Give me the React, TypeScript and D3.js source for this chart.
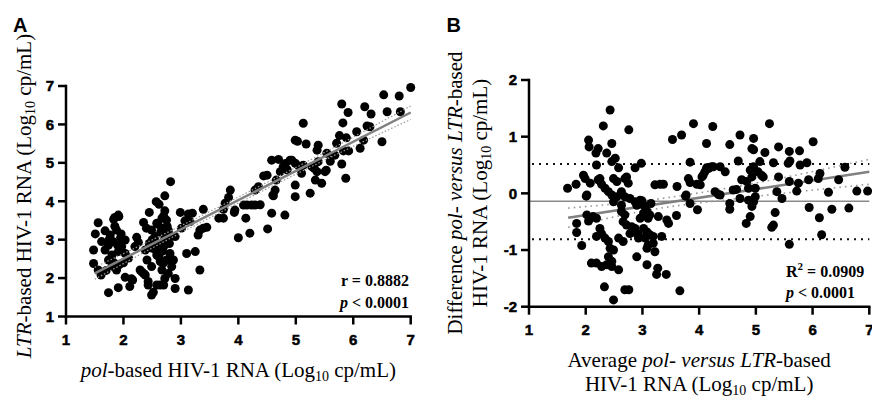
import React from 'react';
import * as d3 from 'd3';

// Panel A: pol-based (x) vs LTR-based (y) HIV-1 RNA, log10 cp/mL
const pointsA: [number, number][] = [
  [2.82, 4.51], [2.72, 4.14], [2.57, 3.99], [2.62, 3.92], [2.45, 3.71], [2.72, 3.75], [2.99, 3.71],
  [1.91, 3.64], [1.83, 3.53], [1.56, 3.44], [2.35, 3.45], [3.07, 3.49], [2.67, 3.56], [2.75, 3.51],
  [2.58, 3.43], [1.51, 3.15], [1.68, 3.23], [1.88, 3.25], [1.96, 3.15], [1.77, 3.12], [2.03, 2.99],
  [2.23, 3.06], [2.26, 2.93], [2.49, 3.25], [2.67, 3.30], [2.78, 3.25], [2.55, 3.08], [2.72, 3.04],
  [2.90, 3.08], [3.01, 3.30], [1.48, 2.73], [1.62, 2.95], [1.74, 2.86], [1.82, 2.95], [1.68, 2.73],
  [1.80, 2.60], [1.91, 2.69], [1.97, 2.82], [1.48, 2.38], [1.56, 2.21], [1.61, 2.08], [1.74, 2.47],
  [1.85, 2.38], [1.88, 2.21], [2.38, 2.73], [2.49, 2.78], [2.58, 2.60], [2.41, 2.47], [2.49, 2.30],
  [2.64, 2.43], [2.75, 2.47], [2.81, 2.64], [3.10, 2.64], [2.70, 2.82], [2.84, 2.30], [2.78, 2.12],
  [2.29, 2.21], [2.35, 2.12], [2.03, 2.02], [2.14, 1.98], [2.90, 1.99], [1.74, 1.62], [1.91, 1.75],
  [2.43, 1.82], [2.52, 1.63], [2.64, 1.82], [2.90, 1.73], [3.13, 1.69], [2.49, 1.56], [2.20, 2.82],
  [2.09, 2.52], [2.03, 2.64], [2.38, 2.08], [2.67, 2.21], [2.72, 1.99], [2.87, 2.47],
  [2.60, 3.40], [2.65, 3.20], [2.70, 3.62], [2.76, 3.35], [2.60, 2.90], [2.68, 2.70], [2.55, 2.75],
  [2.62, 2.55], [2.70, 2.40], [2.80, 2.90], [2.50, 3.00], [2.45, 2.90], [2.40, 3.30], [2.83, 3.10],
  [1.75, 3.00], [1.85, 3.35], [1.95, 3.05], [1.90, 2.85], [1.80, 2.45], [1.93, 2.35], [2.00, 2.40],
  [1.70, 2.20], [1.80, 2.30], [1.85, 3.58], [1.92, 3.60],
  [2.11, 1.78], [2.16, 1.95], [2.32, 2.16], [2.43, 1.91], [2.58, 1.82], [2.70, 1.82], [3.33, 2.21],
  [3.25, 2.69], [3.16, 3.47], [3.20, 3.69], [3.13, 3.67], [3.33, 3.25], [3.39, 3.30], [3.45, 3.32],
  [3.30, 3.12], [3.39, 3.79], [3.66, 3.56], [3.74, 3.56], [3.77, 3.95], [3.74, 3.79], [3.83, 4.10],
  [3.86, 4.29], [3.93, 3.71], [3.94, 3.77], [4.00, 3.05], [4.09, 3.90], [4.15, 3.90], [4.23, 3.90],
  [4.29, 3.90], [4.38, 3.91], [4.13, 3.56], [4.20, 3.17], [4.51, 3.28], [4.58, 3.69], [4.61, 4.14],
  [4.81, 3.64], [4.99, 4.12], [5.25, 4.21],
  [4.29, 4.29], [4.35, 4.38], [4.44, 4.66], [4.50, 4.68], [4.58, 5.07], [4.60, 4.16], [4.64, 4.29],
  [4.66, 4.55], [4.70, 5.09], [4.73, 4.77], [4.78, 4.90], [4.82, 4.98], [4.85, 4.82], [4.90, 5.07],
  [4.99, 5.59], [5.03, 5.56], [4.99, 4.42], [5.05, 4.92], [5.10, 4.73], [5.13, 6.03], [5.18, 5.49],
  [5.28, 4.90], [5.34, 4.55], [5.37, 5.33], [5.39, 5.46], [5.45, 4.47], [5.51, 4.77], [5.54, 5.25],
  [5.60, 5.04], [5.71, 5.51], [5.76, 5.71], [5.88, 5.65], [5.80, 4.97], [5.80, 6.53], [5.82, 6.04],
  [5.83, 5.31], [5.92, 5.31], [5.87, 4.60], [5.68, 5.20], [5.91, 6.31], [6.06, 5.81], [6.12, 5.38],
  [6.18, 5.59], [6.20, 6.46], [6.24, 5.96], [6.29, 5.94], [6.31, 6.27], [6.50, 5.55], [6.53, 6.77],
  [6.59, 6.33], [6.80, 6.74], [6.82, 6.33], [7.00, 6.96], [4.93, 5.07], [4.99, 4.99], [5.13, 4.94],
  [5.32, 4.86], [5.37, 4.77], [5.39, 5.03], [5.53, 4.81],
];

// Panel B: average (x) vs difference pol - LTR (y)
const pointsB: [number, number][] = [
  [1.68, 0.09], [1.83, 0.16], [1.96, 0.32], [1.99, 0.26], [2.02, -0.03], [2.05, 0.94], [2.06, 0.82],
  [2.19, 0.50], [2.18, 0.71], [2.22, 0.79], [2.08, 0.18], [2.25, 0.26], [2.28, 0.16], [2.31, 1.19],
  [2.37, 0.71], [2.46, 0.88], [2.43, 1.47], [2.46, 0.56], [2.52, 0.62], [2.58, 0.45], [2.22, 0.24],
  [2.34, 0.09], [2.40, 0.03], [2.49, 0.26], [2.55, 0.21], [2.46, -0.03], [2.55, -0.06], [2.49, -0.15],
  [2.76, 1.12], [2.72, 0.29], [2.75, 0.18], [2.69, 0.26], [2.63, 0.03], [2.69, -0.06], [2.78, -0.09],
  [2.87, -0.15], [2.96, -0.12], [3.02, -0.21], [2.87, 0.45], [2.98, 0.53], [3.22, 0.15], [3.31, 0.16],
  [3.37, 0.16], [3.53, 0.95], [3.69, 1.03], [3.61, 0.12], [3.77, -0.03], [3.81, 0.26], [3.84, 0.19],
  [3.84, 0.55], [3.90, 1.23], [3.96, 0.16], [4.02, 0.15], [4.05, 0.29], [4.07, 0.32], [4.10, 0.38],
  [4.13, 0.45], [4.17, 0.44], [4.22, 0.47], [4.25, 0.47], [4.13, 0.88], [4.24, 1.18], [4.28, 0.03],
  [4.34, -0.02], [4.37, 0.47], [4.46, 0.38], [4.54, 0.86], [4.60, 0.06], [4.66, 0.07], [4.72, 1.03],
  [4.69, 0.57], [4.75, 0.24], [4.87, 0.09], [4.84, 0.21], [4.99, 0.09], [4.93, 0.29], [4.90, 0.41],
  [4.96, 0.47], [5.04, 0.38], [4.93, 0.79], [4.96, 0.97], [5.07, 0.56], [5.10, 0.32], [5.13, 0.29],
  [5.16, 0.72], [5.24, 1.23], [5.31, 0.54], [5.40, 0.82], [5.40, 0.29], [5.37, 0.03], [5.57, 0.53],
  [5.60, 0.57], [5.59, 0.74], [5.59, 0.21], [5.72, 0.04], [5.75, 0.18], [5.77, 0.75], [5.78, 0.50],
  [5.90, 0.54], [5.93, 0.24], [6.01, 0.91], [6.10, 0.26], [6.13, 0.35], [6.28, 0.02], [6.46, 0.24],
  [6.57, 0.46], [6.78, 0.04], [6.97, 0.04], [4.96, 0.77],
  [5.46, -0.09], [5.94, -0.25], [6.12, -0.43], [6.34, -0.28], [6.64, -0.26], [5.34, -0.34],
  [5.28, -0.60], [5.31, -0.56], [4.90, -0.41], [4.83, -0.53], [6.16, -0.73], [5.59, -0.90],
  [4.96, -0.15], [4.93, -0.23], [4.99, -0.06], [4.72, -0.09], [4.87, -0.12],
  [3.76, -0.05], [3.84, -0.18], [3.97, -0.29], [4.37, -0.03], [4.54, -0.18], [4.54, -0.28],
  [2.99, -0.13], [2.90, -0.21], [3.05, -0.23], [3.08, -0.32], [3.13, -0.38], [3.10, -0.44],
  [2.96, -0.44], [3.02, -0.62], [3.08, -0.68], [3.13, -0.73], [3.19, -0.76], [3.05, -0.79],
  [3.10, -0.91], [3.19, -0.88], [3.08, -0.97], [3.22, -1.03], [2.93, -0.73], [2.90, -1.12],
  [3.08, -1.26], [3.27, -1.32], [3.25, -1.43], [3.42, -1.43], [3.34, -0.76], [3.28, -0.41],
  [3.43, -0.47], [3.46, -0.53], [3.60, -0.39], [3.66, -1.72], [3.15, -0.18],
  [2.01, -0.05], [1.84, -0.53], [1.84, -0.69], [2.02, -0.38], [2.08, -0.44], [2.13, -0.41],
  [2.19, -0.44], [2.05, -0.49], [1.93, -0.92], [2.25, -0.62], [2.28, -0.71], [2.19, -0.76],
  [2.34, -0.79], [2.40, -0.85], [2.43, -0.97], [2.49, -1.00], [2.40, -1.12], [2.46, -1.20],
  [2.10, -1.23], [2.19, -1.23], [2.28, -1.29], [2.37, -1.26], [2.46, -1.29], [2.58, -1.35],
  [2.58, -0.79], [2.66, -0.85], [2.33, -1.65], [2.69, -1.70], [2.76, -1.70], [2.49, -1.88],
  [2.63, -0.32], [2.69, -0.38], [2.66, -0.50], [2.72, -0.56], [2.81, -0.59], [2.87, -0.62],
  [2.78, -0.71], [2.90, -0.71], [2.93, -0.79], [2.63, -0.21], [3.02, -0.35],
];

const ticksX = [1, 2, 3, 4, 5, 6, 7];
const ticksAY = [1, 2, 3, 4, 5, 6, 7];
const ticksBY = [-2, -1, 0, 1, 2];

// regression line + 95% band
const regAX = [1.5, 7];
const regAY = [2.125, 6.31];
const bandAX = [1.5, 3, 4.25, 5.5, 7];
const bandAUp = [2.28, 3.36, 4.3, 5.27, 6.48];
const bandALo = [1.97, 3.18, 4.14, 5.07, 6.13];

const regBX = [1.69, 7];
const regBY = [-0.43, 0.38];
const bandBX = [1.69, 3.2, 4.6, 7];
const bandBUp = [-0.26, -0.11, 0.11, 0.6];
const bandBLo = [-0.6, -0.28, -0.1, 0.16];
const meanDiff = -0.14;
const limitsB = [0.52, -0.81];

const W = 872;
const H = 398;
const boxA = { left: 66, right: 410.7, top: 86, bottom: 316.5 };
const boxB = { left: 529, right: 869.3, top: 80, bottom: 306.7 };
const serif = 'Liberation Serif, Times New Roman, serif';
const sans = 'Liberation Sans, Arial, sans-serif';

const xA = d3.scaleLinear().domain([1, 7]).range([boxA.left, boxA.right]);
const yA = d3.scaleLinear().domain([1, 7]).range([boxA.bottom, boxA.top]);
const xB = d3.scaleLinear().domain([1, 7]).range([boxB.left, boxB.right]);
const yB = d3.scaleLinear().domain([-2, 2]).range([boxB.bottom, boxB.top]);

// bold sans tick labels, a hair of stroke to get the heavy look of the original
const tickFont = {
  fontFamily: sans,
  fontWeight: 'bold' as const,
  fontSize: 15,
  stroke: '#000',
  strokeWidth: 0.5,
};

const AxisBottom = ({ scale, ticks, y }: { scale: d3.ScaleLinear<number, number>; ticks: number[]; y: number }) => {
  const [r0, r1] = scale.range();
  return (
    <g>
      {ticks.map((t) => (
        <g key={t} transform={`translate(${scale(t)},${y})`}>
          <line y2={8} stroke="#000" strokeWidth={2.5} />
          <text y={28} textAnchor="middle" {...tickFont}>{t}</text>
        </g>
      ))}
      <line x1={r0 - 1.25} x2={r1 + 1.25} y1={y} y2={y} stroke="#000" strokeWidth={2.5} />
    </g>
  );
};

const AxisLeft = ({ scale, ticks, x }: { scale: d3.ScaleLinear<number, number>; ticks: number[]; x: number }) => {
  const [r0, r1] = scale.range();
  return (
    <g>
      {ticks.map((t) => (
        <g key={t} transform={`translate(${x},${scale(t)})`}>
          <line x2={-8} stroke="#000" strokeWidth={2.5} />
          <text x={-12} dy="0.36em" textAnchor="end" {...tickFont}>{t}</text>
        </g>
      ))}
      <line x1={x} x2={x} y1={r0 + 1.25} y2={r1 - 1.25} stroke="#000" strokeWidth={2.5} />
    </g>
  );
};

const Log10 = () => (
  <>
    {'(Log'}
    <tspan fontSize={14} dy={4}>10</tspan>
    <tspan dy={-4}>{' cp/mL)'}</tspan>
  </>
);

const App: React.FC = () => {
  const regLine = (xs: number[], ys: number[], sx: any, sy: any) =>
    d3.line<number>().x((d) => sx(d)).y((d, i) => sy(ys[i]))(xs) || '';
  const bandLine = (xs: number[], ys: number[], sx: any, sy: any) =>
    d3.line<number>().x((d) => sx(d)).y((d, i) => sy(ys[i])).curve(d3.curveMonotoneX)(xs) || '';

  return (
    <svg width={W} height={H} style={{ position: 'absolute', left: 0, top: 0, background: '#fff' }}>
      {/* panel letters */}
      <text x={13} y={32} fontFamily={sans} fontWeight="bold" fontSize={20}>A</text>
      <text x={446.5} y={32} fontFamily={sans} fontWeight="bold" fontSize={20}>B</text>

      {/* ---- panel A ---- */}
      <g>
        {pointsA.map((d, i) => (
          <circle key={i} cx={xA(d[0])} cy={yA(d[1])} r={4.5} fill="#000" />
        ))}
        <path d={bandLine(bandAX, bandAUp, xA, yA)} fill="none" stroke="#9a9a9a" strokeWidth={1.2} strokeDasharray="1.5 2" />
        <path d={bandLine(bandAX, bandALo, xA, yA)} fill="none" stroke="#9a9a9a" strokeWidth={1.2} strokeDasharray="1.5 2" />
        <path d={regLine(regAX, regAY, xA, yA)} fill="none" stroke="#808080" strokeWidth={2.5} />
        <AxisBottom scale={xA} ticks={ticksX} y={boxA.bottom} />
        <AxisLeft scale={yA} ticks={ticksAY} x={boxA.left} />
        <text x={341} y={286} fontFamily={serif} fontSize={16} fontWeight="bold">r = 0.8882</text>
        <text x={340} y={308} fontFamily={serif} fontSize={16} fontWeight="bold">
          <tspan fontStyle="italic">p</tspan>{' < 0.0001'}
        </text>
        <text x={(boxA.left + boxA.right) / 2} y={377} textAnchor="middle" fontFamily={serif} fontSize={21}>
          <tspan fontStyle="italic">pol</tspan>{'-based HIV-1 RNA '}<Log10 />
        </text>
        <text transform={`translate(31,196) rotate(-90)`} textAnchor="middle" fontFamily={serif} fontSize={21}>
          <tspan fontStyle="italic">LTR</tspan>{'-based HIV-1 RNA '}<Log10 />
        </text>
      </g>

      {/* ---- panel B ---- */}
      <g>
        {limitsB.map((v, i) => (
          <line key={i} x1={boxB.left + 3} x2={boxB.right} y1={yB(v)} y2={yB(v)} stroke="#111" strokeWidth={2} strokeDasharray="2 5" />
        ))}
        <line x1={boxB.left} x2={boxB.right} y1={yB(meanDiff)} y2={yB(meanDiff)} stroke="#8a8a8a" strokeWidth={1.6} />
        <path d={bandLine(bandBX, bandBUp, xB, yB)} fill="none" stroke="#9a9a9a" strokeWidth={1.6} strokeDasharray="1.6 4" />
        <path d={bandLine(bandBX, bandBLo, xB, yB)} fill="none" stroke="#9a9a9a" strokeWidth={1.6} strokeDasharray="1.6 4" />
        <path d={regLine(regBX, regBY, xB, yB)} fill="none" stroke="#808080" strokeWidth={2.5} />
        {pointsB.map((d, i) => (
          <circle key={i} cx={xB(d[0])} cy={yB(d[1])} r={4.5} fill="#000" />
        ))}
        <AxisBottom scale={xB} ticks={ticksX} y={boxB.bottom} />
        <AxisLeft scale={yB} ticks={ticksBY} x={boxB.left} />
        <text x={786} y={277} fontFamily={serif} fontSize={16} fontWeight="bold">
          R<tspan fontSize={11} dy={-7}>2</tspan><tspan dy={7}>{' = 0.0909'}</tspan>
        </text>
        <text x={786} y={298} fontFamily={serif} fontSize={16} fontWeight="bold">
          <tspan fontStyle="italic">p</tspan>{' < 0.0001'}
        </text>
        <text x={(boxB.left + boxB.right) / 2} y={367} textAnchor="middle" fontFamily={serif} fontSize={21}>
          {'Average '}<tspan fontStyle="italic">{'pol- versus LTR'}</tspan>{'-based'}
        </text>
        <text x={(boxB.left + boxB.right) / 2} y={391} textAnchor="middle" fontFamily={serif} fontSize={21}>
          {'HIV-1 RNA '}<Log10 />
        </text>
        <text transform={`translate(462,193) rotate(-90)`} textAnchor="middle" fontFamily={serif} fontSize={21}>
          {'Difference '}<tspan fontStyle="italic">{'pol- versus LTR'}</tspan>{'-based'}
        </text>
        <text transform={`translate(486.5,193) rotate(-90)`} textAnchor="middle" fontFamily={serif} fontSize={21}>
          {'HIV-1 RNA '}<Log10 />
        </text>
      </g>
    </svg>
  );
};

export default App;
